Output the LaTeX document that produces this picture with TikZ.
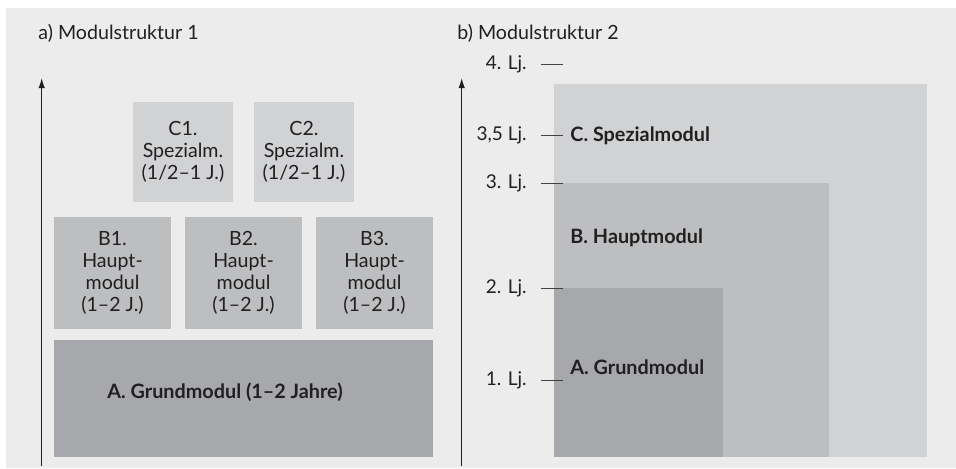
\documentclass[tikz,border=0pt]{standalone}
\usepackage{fontspec}
\setmainfont{Lato}
\usepackage{xcolor}
\usetikzlibrary{arrows.meta,positioning}

\definecolor{bggray}{HTML}{ECECEC}
\definecolor{lightmod}{HTML}{D1D2D4}
\definecolor{midmod}{HTML}{BDBEC0}
\definecolor{darkmod}{HTML}{A7A8AB}
\definecolor{txtgray}{HTML}{231F20}

\begin{document}
\begin{tikzpicture}[
    x=0.5pt, y=-0.5pt,
    modbox/.style={rectangle, inner sep=0pt, align=center, text=txtgray,
      font=\fontsize{9.8}{10.9}\selectfont},
    title/.style={anchor=base west, inner sep=0pt, text=txtgray,
      font=\fontsize{9.8}{11}\selectfont},
    ticklabel/.style={anchor=base east, inner sep=0pt, text=txtgray,
      font=\fontsize{9.5}{11}\selectfont},
    boldlabel/.style={anchor=base west, inner sep=0pt, text=txtgray,
      font=\fontsize{9.9}{11}\selectfont\bfseries},
    axis/.style={-{Latex[length=5pt,width=3.2pt]}, line width=0.6pt, txtgray},
    tick/.style={line width=0.5pt, txtgray!85}
  ]
    \useasboundingbox (0,0) rectangle (956,468);
    % Background
    \fill[bggray] (6,8) rectangle (956,468);

    % a) Modulstruktur 1
    \node[title] (titleA) at (38,39) {a) Modulstruktur 1};
    \coordinate (axAlow) at (41.7,466);
    \coordinate (axAtop) at (41.7,78);
    \draw[axis] (axAlow) -- (axAtop);

    \node[modbox, fill=lightmod, minimum width=50pt, minimum height=50pt] (c1) at (183,152) {C1.\\Spezialm.\\(1/2–1 J.)};
    \node[modbox, fill=lightmod, minimum width=50pt, minimum height=50pt] (c2) at (304,152) {C2.\\Spezialm.\\(1/2–1 J.)};

    \node[modbox, fill=midmod, minimum width=58.5pt, minimum height=56pt] (b1) at (112.5,273) {B1.\\Haupt-\\modul\\(1–2 J.)};
    \node[modbox, fill=midmod, minimum width=58.5pt, minimum height=56pt] (b2) at (243.5,273) {B2.\\Haupt-\\modul\\(1–2 J.)};
    \node[modbox, fill=midmod, minimum width=58.5pt, minimum height=56pt] (b3) at (374.5,273) {B3.\\Haupt-\\modul\\(1–2 J.)};

    \node[modbox, fill=darkmod, minimum width=189.5pt, minimum height=58.5pt] (a) at (243.5,398.5) {};
    \node[boldlabel] (alabel) at (107,398) {A. Grundmodul (1–2 Jahre)};

    % b) Modulstruktur 2
    \node[title] (titleB) at (457,39) {b) Modulstruktur 2};
    \coordinate (axBlow) at (461.7,466);
    \coordinate (axBtop) at (461.7,78);
    \draw[axis] (axBlow) -- (axBtop);

    \fill[lightmod] (554,84) rectangle (927,457);
    \fill[midmod] (554,183) rectangle (829,457);
    \fill[darkmod] (554,288) rectangle (723,457);

    % Years
    \foreach \y/\lab [count=\i] in {64/4. Lj., 135/{3,5 Lj.}, 183/3. Lj., 288/2. Lj., 380/1. Lj.}{
      \draw[tick] (541,\y) -- (563,\y);
      \node[ticklabel] (lj\i) at (527,\y+5.5) {\lab};
    }

    \node[boldlabel] (clabel) at (570,141) {C. Spezialmodul};
    \node[boldlabel] (blabel) at (570,243) {B. Hauptmodul};
    \node[boldlabel] (glabel) at (570,374) {A. Grundmodul};
  \end{tikzpicture}
\end{document}
